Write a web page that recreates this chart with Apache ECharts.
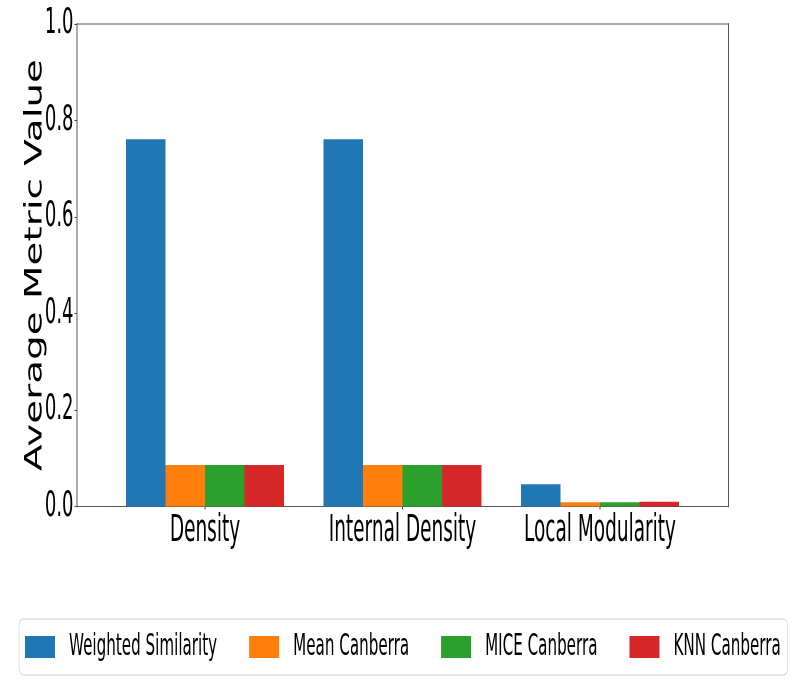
<!DOCTYPE html>
<html>
<head>
<meta charset="utf-8">
<script src="https://cdn.jsdelivr.net/npm/echarts@6/dist/echarts.min.js"></script>
<style>
html, body { margin: 0; padding: 0; overflow: hidden; background: #fff; width: 806px; height: 698px; }
#main { width: 1612px; height: 698px; transform: scaleX(0.5); transform-origin: 0 0; }
</style>
</head>
<body>
<div id="main"></div>
<script>
// Data
const categories = ['Density', 'Internal Density', 'Local Modularity'];
const seriesNames = ['Weighted Similarity', 'Mean Canberra', 'MICE Canberra', 'KNN Canberra'];
const weightedSimilarity = [0.761, 0.761, 0.046];
const meanCanberra = [0.086, 0.086, 0.009];
const miceCanberra = [0.086, 0.086, 0.009];
const knnCanberra = [0.086, 0.086, 0.010];
const colors = ['#1f77b4', '#ff7f0e', '#2ca02c', '#d62728'];
const yLabel = 'Average Metric Value';

const seriesValues = [weightedSimilarity, meanCanberra, miceCanberra, knnCanberra];
const FONT = 'DejaVu Sans';

const chart = echarts.init(document.getElementById('main'), null, { renderer: 'canvas' });

const option = {
  backgroundColor: '#ffffff',
  animation: false,
  textStyle: { fontFamily: FONT },
  grid: [
    { left: 154, right: 155, top: 24, bottom: 191.5, show: true, borderColor: '#555', borderWidth: 1, backgroundColor: 'transparent' },
    { left: 212.5, right: 214.5, top: 24, bottom: 191.5 }
  ],
  xAxis: [
    { gridIndex: 0, type: 'value', min: 0, max: 1, show: false },
    {
      gridIndex: 1, type: 'category', data: categories,
      axisLine: { show: false },
      axisTick: { show: true, alignWithLabel: true, interval: 0, length: 3, lineStyle: { color: '#444', width: 2 } },
      axisLabel: { color: '#000', fontFamily: FONT, fontSize: 37, margin: 6, interval: 0, hideOverlap: false },
      splitLine: { show: false }
    }
  ],
  yAxis: [
    {
      gridIndex: 0, type: 'value', min: 0, max: 1, interval: 0.2,
      axisLine: { show: true, lineStyle: { color: '#555', width: 2 } },
      axisTick: { show: true, length: 5, lineStyle: { color: '#444', width: 1 } },
      axisLabel: { color: '#000', fontFamily: FONT, fontSize: 36, margin: 7, formatter: v => v.toFixed(1) },
      splitLine: { show: false }
    },
    {
      gridIndex: 0, type: 'value', min: 0, max: 1, position: 'right',
      axisLine: { show: true, lineStyle: { color: '#555', width: 2 } },
      axisTick: { show: false }, axisLabel: { show: false }, splitLine: { show: false }
    },
    { gridIndex: 1, type: 'value', min: 0, max: 1, show: false, splitLine: { show: false } }
  ],
  legend: {
    left: 38, top: 619,
    padding: [13, 14, 13, 12],
    itemWidth: 60, itemHeight: 22, itemGap: 64,
    icon: 'rect',
    borderColor: '#d0d0d0', borderWidth: 1.2, borderRadius: 8,
    textStyle: { color: '#000', fontFamily: FONT, fontSize: 30.3, padding: [0, 0, 0, 23] },
    data: seriesNames
  },
  graphic: [
    {
      type: 'text',
      x: 71, y: 265,
      rotation: Math.PI / 2,
      scaleX: 0.81, scaleY: 1,
      style: { text: yLabel, font: '48px "DejaVu Sans"', fill: '#000', align: 'center', verticalAlign: 'middle' }
    }
  ],
  series: seriesNames.map((name, i) => ({
    name: name,
    type: 'bar',
    xAxisIndex: 1, yAxisIndex: 2,
    data: seriesValues[i],
    barGap: '0%',
    barCategoryGap: '20%',
    itemStyle: { color: colors[i] }
  }))
};

chart.setOption(option);
</script>
</body>
</html>
